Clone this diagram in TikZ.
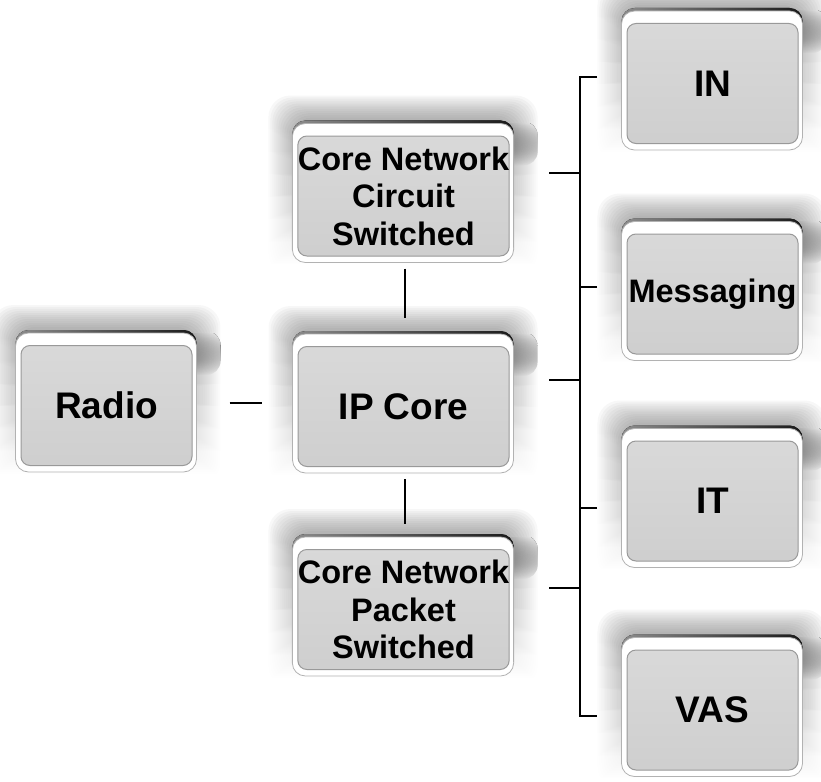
\documentclass[tikz,border=0pt]{standalone}
\usepackage{fontspec}
\setmainfont{Liberation Sans}
\usetikzlibrary{backgrounds,fadings,calc}
\tikzfading[name=fadedown, top color=transparent!0, bottom color=transparent!100]

\begin{document}
\begin{tikzpicture}[x=1pt,y=-1pt,
  panel/.style={rounded corners=9pt, top color=black!15, bottom color=black!19,
    draw=black!40, line width=1pt, inner sep=0pt, align=center, text=black,
    font=\bfseries\fontsize{37}{40}\selectfont, minimum height=120pt},
  sidebox/.style={panel, minimum width=171pt},
  midbox/.style={panel, minimum width=211pt},
  smalltext/.style={font=\bfseries\fontsize{32.5}{37.5}\selectfont},
  conn/.style={draw=black, line width=1.8pt}]

\useasboundingbox (0,0) rectangle (821,781);

% panels with their labels
\node[sidebox] (radio) at (106.5,405.5) {Radio};
\node[midbox, smalltext] (cs) at (403.5,196) {Core Network\\Circuit\\Switched};
\node[midbox] (ip) at (403.5,406.5) {IP Core};
\node[midbox, smalltext] (ps) at (403.5,609.5) {Core Network\\Packet\\Switched};
\node[sidebox] (in) at (712.5,83.5) {IN};
\node[sidebox, smalltext] (msg) at (712.5,294) {Messaging};
\node[sidebox] (it) at (712.5,501) {IT};
\node[sidebox] (vas) at (712.5,710) {VAS};

% raised frames, top edges and soft halos behind the panels
\begin{pgfonlayer}{background}
\foreach \n in {radio,cs,ip,ps,in,msg,it,vas}{
  \coordinate (SW) at ([shift={(-5pt,-6pt)}]\n.south west);
  \coordinate (NE) at ([shift={(4pt,12pt)}]\n.north east);
  \foreach \e in {2,4,...,24}{
    \fill[black, opacity=0.032, path fading=fadedown, rounded corners=22pt]
      ([shift={(-\e pt,12pt-\e pt)}]SW) rectangle ([shift={(\e pt,4pt+\e pt)}]NE);
  }
  \begin{scope}
    \clip ([xshift=-12pt]NE) rectangle ([shift={(32pt,-55pt)}]NE);
    \fill[left color=black!55, right color=white, path fading=fadedown, rounded corners=14pt]
      ([shift={(-30pt,-42pt)}]NE) rectangle ([shift={(24pt,2pt)}]NE);
  \end{scope}
  \fill[left color=black!45, right color=black!90, rounded corners=13pt]
    ([yshift=3pt]SW) rectangle ([yshift=3pt]NE);
  \fill[white, draw=black!30, line width=0.8pt, rounded corners=13pt] (SW) rectangle (NE);
}
\end{pgfonlayer}

% connectors between the core boxes
\draw[conn, shorten <=37pt, shorten >=36pt] ([yshift=2.5pt]radio.east) -- ([yshift=2.5pt]radio.east -| ip.west);
\draw[conn, shorten <=12pt, shorten >=28pt] ([xshift=1.5pt]cs.south) -- ([xshift=1.5pt]ip.north);
\draw[conn, shorten <=12pt, shorten >=25pt] ([xshift=1.5pt]ip.south) -- ([xshift=1.5pt]ps.north);

% bracket joining the core to the service platforms
\coordinate (tapIN) at (597,77);
\coordinate (tapMSG) at (597,287);
\coordinate (tapIT) at (597,508);
\coordinate (tapVAS) at (597,716);
\coordinate (tapCS) at (549,173);
\coordinate (tapIP) at (549,380);
\coordinate (tapPS) at (549,588);
\coordinate (bus) at (580,0);
\draw[conn] (tapIN) -- (tapIN -| bus) -- (tapVAS -| bus) -- (tapVAS);
\draw[conn] (tapMSG) -- (tapMSG -| bus);
\draw[conn] (tapIT) -- (tapIT -| bus);
\draw[conn] (tapCS) -- (tapCS -| bus);
\draw[conn] (tapIP) -- (tapIP -| bus);
\draw[conn] (tapPS) -- (tapPS -| bus);
\end{tikzpicture}
\end{document}
